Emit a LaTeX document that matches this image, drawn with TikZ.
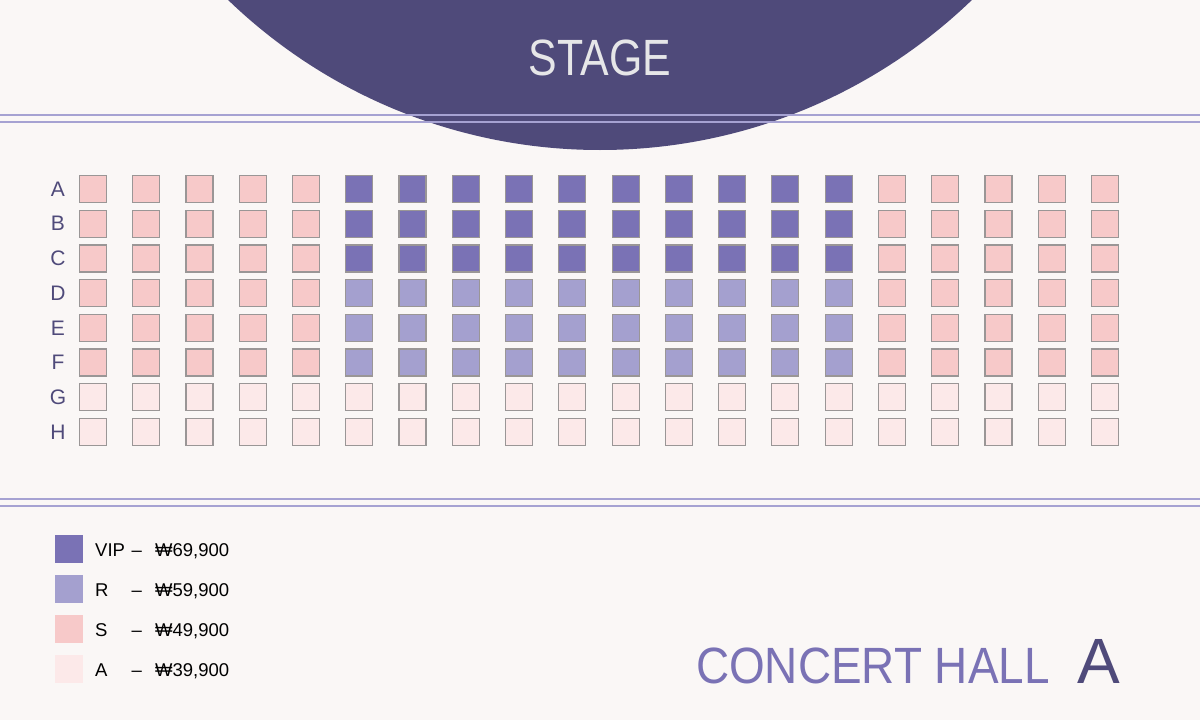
\documentclass[tikz,border=0pt]{standalone}
\usepackage{fontspec}
\setmainfont{Liberation Sans}
\newfontfamily\narrowfont[FakeStretch=0.84]{Liberation Sans}
\newfontfamily\hallfont[FakeStretch=0.9]{Liberation Sans}
\definecolor{bgpaper}{HTML}{FAF7F6}
\definecolor{stagepurple}{HTML}{4F4A7A}
\definecolor{vipcol}{HTML}{7A72B5}
\definecolor{rcol}{HTML}{A4A0CF}
\definecolor{scol}{HTML}{F7C9C9}
\definecolor{acol}{HTML}{FCE9E9}
\definecolor{rulecol}{HTML}{A6A2D2}
\definecolor{seatedge}{HTML}{9A9696}
\definecolor{stagetext}{HTML}{E6E6E8}
\begin{document}
\begin{tikzpicture}[x=1pt,y=-1pt,
	seat/.style={ draw=seatedge, line width=1.2pt, inner sep=0pt, minimum size=27pt },
	key/.style={ inner sep=0pt, minimum size=28pt },
	rowlabel/.style={ text=stagepurple, font=\fontsize{21}{21}\selectfont },
	keytext/.style={ anchor=base west, inner sep=0pt, text=black, font=\fontsize{18.5}{19}\selectfont },
	rule/.style={ draw=rulecol, line width=2pt }
]

\fill[bgpaper] (0,0) rectangle (1200,720);
\useasboundingbox (0,0) rectangle (1200,720);

% stage
\begin{scope}
\clip (0,0) rectangle (1200,720);
\fill[stagepurple] (600,-386) circle (536);
\end{scope}
\node at (600,75) (stage) [anchor=base, text=stagetext, font=\narrowfont\fontsize{51}{51}\selectfont] {STAGE};

% double rules
\coordinate (tl1) at (0,115); \coordinate (tr1) at (1200,115);
\coordinate (tl2) at (0,122); \coordinate (tr2) at (1200,122);
\coordinate (bl1) at (0,499); \coordinate (br1) at (1200,499);
\coordinate (bl2) at (0,506); \coordinate (br2) at (1200,506);
\draw[rule] (tl1) -- (tr1);
\draw[rule] (tl2) -- (tr2);
\draw[rule] (bl1) -- (br1);
\draw[rule] (bl2) -- (br2);

% seats
\foreach \r [count=\i from 0] in {A,B,C,D,E,F,G,H} {
	\node at (58,{189+34.7*\i}) (lab\r) [rowlabel] {\r};
	\foreach \c in {1,...,20} {
		\ifnum\i>5
			\def\seatfill{acol}
		\else
			\ifnum\c<6
				\def\seatfill{scol}
			\else\ifnum\c>15
				\def\seatfill{scol}
			\else\ifnum\i<3
				\def\seatfill{vipcol}
			\else
				\def\seatfill{rcol}
			\fi\fi\fi
		\fi
		\node at ({93+53.26*(\c-1)},{189+34.7*\i}) (seat\r\c) [seat,fill=\seatfill] {};
	}
}

% legend
\foreach \name/\tag/\price/\col [count=\k from 0] in {vip/VIP/69/vipcol, r/R/59/rcol, s/S/49/scol, a/A/39/acol} {
	\node at (69,{549+40*\k}) (key\name) [key,fill=\col] {};
	\node at (95,{556.5+40*\k}) (tag\name) [keytext] {\tag};
	\node at (131.5,{556.5+40*\k}) (dash\name) [keytext] {–};
	\node at (155,{556.5+40*\k}) (price\name) [keytext] {₩\price,900};
}

% title
\node at (1050,683) (hall) [anchor=base east, inner sep=0pt, text=vipcol, font=\hallfont\fontsize{51}{51}\selectfont] {CONCERT HALL};
\node at (1099,683) (hallA) [anchor=base, inner sep=0pt, text=stagepurple, font=\fontsize{64}{64}\selectfont] {A};

\end{tikzpicture}
\end{document}
